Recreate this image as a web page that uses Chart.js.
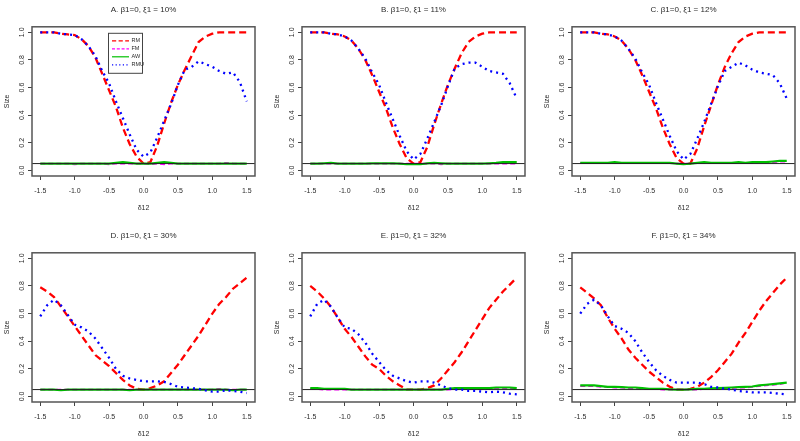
<!DOCTYPE html>
<html>
<head>
<meta charset="utf-8">
<script src="https://cdn.jsdelivr.net/npm/chart.js@4.4.1/dist/chart.umd.min.js"></script>
<style>
  html, body { margin: 0; padding: 0; background: #fff; overflow: hidden; }
  #wrap { position: relative; width: 800px; height: 441px; }
  canvas { position: absolute; }
</style>
</head>
<body>
<div id="wrap"></div>
<script>
// x values (delta12) shared by all panels
const deltaValues = [-1.5, -1.4, -1.3, -1.2, -1.1, -1.0, -0.9, -0.8, -0.7, -0.6, -0.5, -0.4, -0.3, -0.2, -0.1, 0.0,
  0.1, 0.2, 0.3, 0.4, 0.5, 0.6, 0.7, 0.8, 0.9, 1.0, 1.1, 1.2, 1.3, 1.4, 1.5];
const xTickValues = [-1.5, -1.0, -0.5, 0.0, 0.5, 1.0, 1.5];
const yTickValues = [0.0, 0.2, 0.4, 0.6, 0.8, 1.0];
const nominalLevel = 0.05;
const seriesNames = ['RM', 'FM', 'AW', 'RMU'];
const panelTitles = ['A. β1=0, ξ1 = 10%', 'B. β1=0, ξ1 = 11%', 'C. β1=0, ξ1 = 12%',
  'D. β1=0, ξ1 = 30%', 'E. β1=0, ξ1 = 32%', 'F. β1=0, ξ1 = 34%'];

// panel A
const rmA = [1.00, 1.00, 1.00, 0.99, 0.985, 0.98, 0.95, 0.90, 0.82, 0.70, 0.58, 0.46, 0.31, 0.19, 0.10, 0.05,
  0.06, 0.18, 0.34, 0.49, 0.62, 0.73, 0.83, 0.93, 0.97, 0.99, 1.00, 1.00, 1.00, 1.00, 1.00];
const fmA = [0.05, 0.05, 0.05, 0.05, 0.05, 0.045, 0.05, 0.05, 0.05, 0.05, 0.045, 0.05, 0.05, 0.05, 0.05, 0.05,
  0.045, 0.05, 0.045, 0.05, 0.05, 0.05, 0.05, 0.05, 0.05, 0.05, 0.05, 0.055, 0.05, 0.05, 0.05];
const awA = [0.05, 0.05, 0.05, 0.05, 0.05, 0.05, 0.05, 0.05, 0.05, 0.05, 0.05, 0.055, 0.06, 0.055, 0.05, 0.05,
  0.05, 0.055, 0.06, 0.055, 0.05, 0.05, 0.05, 0.05, 0.05, 0.05, 0.05, 0.05, 0.05, 0.05, 0.05];
const rmuA = [1.00, 1.00, 1.00, 0.99, 0.985, 0.98, 0.95, 0.90, 0.83, 0.72, 0.63, 0.50, 0.38, 0.26, 0.15, 0.10,
  0.13, 0.24, 0.36, 0.48, 0.62, 0.73, 0.75, 0.79, 0.77, 0.75, 0.72, 0.70, 0.71, 0.64, 0.50];

// panel B
const rmB = [1.00, 1.00, 1.00, 0.99, 0.985, 0.97, 0.94, 0.88, 0.80, 0.69, 0.57, 0.45, 0.31, 0.19, 0.09, 0.05,
  0.06, 0.17, 0.33, 0.48, 0.62, 0.74, 0.85, 0.93, 0.97, 0.99, 1.00, 1.00, 1.00, 1.00, 1.00];
const fmB = [0.05, 0.05, 0.05, 0.05, 0.05, 0.05, 0.05, 0.05, 0.05, 0.05, 0.05, 0.05, 0.05, 0.05, 0.05, 0.05,
  0.05, 0.05, 0.05, 0.045, 0.05, 0.05, 0.05, 0.05, 0.05, 0.05, 0.05, 0.05, 0.05, 0.05, 0.05];
const awB = [0.05, 0.05, 0.052, 0.055, 0.05, 0.05, 0.05, 0.05, 0.05, 0.052, 0.052, 0.052, 0.052, 0.05, 0.045, 0.045,
  0.045, 0.052, 0.055, 0.052, 0.05, 0.05, 0.05, 0.05, 0.05, 0.05, 0.052, 0.055, 0.06, 0.06, 0.06];
const rmuB = [1.00, 1.00, 1.00, 0.99, 0.985, 0.97, 0.94, 0.88, 0.81, 0.71, 0.62, 0.49, 0.37, 0.25, 0.14, 0.08,
  0.12, 0.23, 0.35, 0.47, 0.61, 0.74, 0.77, 0.78, 0.78, 0.75, 0.72, 0.71, 0.70, 0.63, 0.52];

// panel C
const rmC = [1.00, 1.00, 1.00, 0.99, 0.985, 0.97, 0.94, 0.88, 0.80, 0.69, 0.57, 0.45, 0.31, 0.19, 0.09, 0.05,
  0.05, 0.16, 0.32, 0.47, 0.62, 0.75, 0.85, 0.93, 0.97, 0.99, 1.00, 1.00, 1.00, 1.00, 1.00];
const fmC = [0.055, 0.055, 0.055, 0.055, 0.055, 0.055, 0.055, 0.055, 0.055, 0.055, 0.055, 0.055, 0.055, 0.055, 0.05, 0.05,
  0.05, 0.055, 0.055, 0.055, 0.055, 0.055, 0.055, 0.055, 0.055, 0.055, 0.06, 0.06, 0.06, 0.065, 0.065];
const awC = [0.055, 0.055, 0.055, 0.055, 0.055, 0.06, 0.055, 0.055, 0.055, 0.055, 0.055, 0.055, 0.055, 0.055, 0.05, 0.045,
  0.05, 0.055, 0.06, 0.055, 0.055, 0.055, 0.055, 0.06, 0.055, 0.06, 0.06, 0.06, 0.065, 0.07, 0.07];
const rmuC = [1.00, 1.00, 1.00, 0.99, 0.985, 0.97, 0.94, 0.88, 0.81, 0.71, 0.62, 0.49, 0.37, 0.25, 0.14, 0.08,
  0.12, 0.23, 0.35, 0.48, 0.61, 0.72, 0.75, 0.78, 0.76, 0.73, 0.71, 0.70, 0.69, 0.63, 0.52];

// panel D
const rmD = [0.79, 0.76, 0.72, 0.65, 0.58, 0.51, 0.44, 0.37, 0.30, 0.26, 0.22, 0.17, 0.12, 0.08, 0.055, 0.05,
  0.06, 0.08, 0.11, 0.17, 0.23, 0.30, 0.37, 0.44, 0.52, 0.60, 0.67, 0.72, 0.78, 0.82, 0.86];
const fmD = [0.05, 0.05, 0.05, 0.05, 0.05, 0.05, 0.05, 0.05, 0.05, 0.05, 0.05, 0.05, 0.05, 0.05, 0.05, 0.05,
  0.05, 0.05, 0.05, 0.05, 0.05, 0.05, 0.05, 0.05, 0.05, 0.05, 0.055, 0.05, 0.05, 0.05, 0.05];
const awD = [0.05, 0.05, 0.05, 0.045, 0.05, 0.05, 0.05, 0.05, 0.05, 0.05, 0.05, 0.05, 0.05, 0.045, 0.05, 0.05,
  0.05, 0.05, 0.05, 0.05, 0.05, 0.05, 0.05, 0.05, 0.05, 0.05, 0.05, 0.05, 0.045, 0.05, 0.05];
const rmuD = [0.58, 0.66, 0.70, 0.66, 0.59, 0.52, 0.50, 0.47, 0.42, 0.35, 0.28, 0.20, 0.15, 0.13, 0.12, 0.11,
  0.11, 0.11, 0.105, 0.09, 0.07, 0.065, 0.06, 0.055, 0.045, 0.035, 0.035, 0.045, 0.04, 0.035, 0.025];

// panel E
const rmE = [0.80, 0.76, 0.71, 0.65, 0.57, 0.49, 0.43, 0.36, 0.29, 0.23, 0.20, 0.15, 0.11, 0.08, 0.05, 0.05,
  0.05, 0.06, 0.08, 0.13, 0.19, 0.25, 0.32, 0.40, 0.48, 0.56, 0.64, 0.70, 0.76, 0.81, 0.86];
const fmE = [0.055, 0.055, 0.05, 0.05, 0.05, 0.05, 0.05, 0.05, 0.05, 0.05, 0.05, 0.05, 0.05, 0.05, 0.05, 0.05,
  0.05, 0.05, 0.05, 0.05, 0.05, 0.055, 0.055, 0.055, 0.055, 0.055, 0.055, 0.06, 0.06, 0.06, 0.055];
const awE = [0.06, 0.06, 0.055, 0.055, 0.055, 0.055, 0.05, 0.05, 0.05, 0.05, 0.05, 0.05, 0.05, 0.05, 0.05, 0.05,
  0.05, 0.05, 0.05, 0.05, 0.055, 0.06, 0.06, 0.06, 0.06, 0.06, 0.06, 0.065, 0.065, 0.065, 0.06];
const rmuE = [0.58, 0.67, 0.70, 0.65, 0.57, 0.50, 0.49, 0.45, 0.39, 0.31, 0.25, 0.19, 0.15, 0.13, 0.11, 0.10,
  0.11, 0.11, 0.10, 0.08, 0.06, 0.05, 0.05, 0.04, 0.04, 0.035, 0.03, 0.035, 0.03, 0.02, 0.015];

// panel F
const rmF = [0.79, 0.75, 0.71, 0.66, 0.57, 0.49, 0.42, 0.34, 0.28, 0.23, 0.18, 0.14, 0.10, 0.07, 0.05, 0.05,
  0.055, 0.07, 0.10, 0.14, 0.19, 0.25, 0.31, 0.39, 0.46, 0.54, 0.62, 0.69, 0.75, 0.81, 0.86];
const fmF = [0.075, 0.075, 0.075, 0.07, 0.07, 0.065, 0.065, 0.06, 0.06, 0.055, 0.055, 0.055, 0.05, 0.05, 0.05, 0.05,
  0.05, 0.05, 0.055, 0.055, 0.055, 0.06, 0.06, 0.065, 0.065, 0.07, 0.075, 0.08, 0.085, 0.09, 0.10];
const awF = [0.08, 0.08, 0.08, 0.075, 0.07, 0.07, 0.068, 0.065, 0.065, 0.06, 0.055, 0.055, 0.055, 0.052, 0.05, 0.05,
  0.052, 0.055, 0.055, 0.058, 0.06, 0.062, 0.065, 0.068, 0.07, 0.072, 0.08, 0.085, 0.09, 0.095, 0.10];
const rmuF = [0.60, 0.67, 0.70, 0.66, 0.58, 0.51, 0.49, 0.46, 0.40, 0.32, 0.25, 0.19, 0.15, 0.12, 0.10, 0.10,
  0.10, 0.10, 0.09, 0.07, 0.065, 0.055, 0.05, 0.04, 0.035, 0.03, 0.03, 0.03, 0.025, 0.02, 0.015];

const panelSeries = [
  [rmA, fmA, awA, rmuA], [rmB, fmB, awB, rmuB], [rmC, fmC, awC, rmuC],
  [rmD, fmD, awD, rmuD], [rmE, fmE, awE, rmuE], [rmF, fmF, awF, rmuF]
];

const xMin = -1.62, xMax = 1.62, yMin = -0.04, yMax = 1.04;
const fontFamily = '"Liberation Sans", Arial, Helvetica, sans-serif';
const textColor = '#2a2a2a';
const axisColor = '#444';

const lineStyles = [
  { color: '#ff0000', width: 2.3, dash: [7, 4] },
  { color: '#ff00ff', width: 1.8, dash: [5, 3] },
  { color: '#00c000', width: 2.2, dash: [] },
  { color: '#0000ff', width: 2.3, dash: [2, 4] }
];
const drawOrder = [3, 2, 1, 0]; // RM bottom, RMU on top

const boxPlugin = {
  id: 'rBox',
  afterDraw(chart) {
    const { ctx, chartArea: a } = chart;
    ctx.save();
    ctx.strokeStyle = '#555';
    ctx.lineWidth = 1.5;
    ctx.strokeRect(a.left, a.top, a.right - a.left, a.bottom - a.top);
    ctx.restore();
  }
};

const legendPlugin = {
  id: 'rLegend',
  afterDraw(chart, args, opts) {
    if (!opts.show) return;
    const { ctx, chartArea: a } = chart;
    const x0 = a.left + 76, y0 = a.top + 6, w = 34, h = 40;
    ctx.save();
    ctx.fillStyle = '#fff';
    ctx.fillRect(x0, y0, w, h);
    ctx.strokeStyle = '#444';
    ctx.lineWidth = 1;
    ctx.strokeRect(x0 + 0.5, y0 + 0.5, w, h);
    ctx.font = '5.5px ' + fontFamily;
    ctx.textBaseline = 'middle';
    seriesNames.forEach((name, i) => {
      const st = lineStyles[i];
      const y = y0 + 8 + i * 8;
      ctx.strokeStyle = st.color;
      ctx.lineWidth = 1.2;
      ctx.setLineDash(st.dash.map(d => d * 0.6));
      ctx.beginPath();
      ctx.moveTo(x0 + 4, y);
      ctx.lineTo(x0 + 21, y);
      ctx.stroke();
      ctx.setLineDash([]);
      ctx.fillStyle = textColor;
      ctx.fillText(name, x0 + 23.5, y);
    });
    ctx.restore();
  }
};

const wrap = document.getElementById('wrap');
const colLefts = [0, 270, 540];
const rowTops = [0, 226];

panelTitles.forEach((title, p) => {
  const canvas = document.createElement('canvas');
  canvas.width = 260;
  canvas.height = 220;
  canvas.style.left = colLefts[p % 3] + 'px';
  canvas.style.top = rowTops[Math.floor(p / 3)] + 'px';
  wrap.appendChild(canvas);

  const datasets = panelSeries[p].map((vals, i) => ({
    label: seriesNames[i],
    data: deltaValues.map((x, k) => ({ x: x, y: vals[k] })),
    borderColor: lineStyles[i].color,
    borderWidth: lineStyles[i].width,
    borderDash: lineStyles[i].dash,
    pointRadius: 0,
    tension: 0,
    fill: false,
    order: drawOrder[i]
  }));
  datasets.push({
    label: 'nominal',
    data: [{ x: xMin, y: nominalLevel }, { x: xMax, y: nominalLevel }],
    borderColor: '#222',
    borderWidth: 1,
    pointRadius: 0,
    order: 0
  });

  new Chart(canvas, {
    type: 'line',
    data: { datasets: datasets },
    options: {
      responsive: false,
      animation: false,
      devicePixelRatio: 1,
      layout: { padding: { left: 0, right: 5, top: 0, bottom: 0 } },
      plugins: {
        legend: { display: false },
        tooltip: { enabled: false },
        title: {
          display: true,
          text: title,
          fullSize: false,
          color: textColor,
          font: { family: fontFamily, size: 8, weight: 'normal' },
          padding: { top: 5, bottom: 12.2 }
        },
        rLegend: { show: p === 0 }
      },
      scales: {
        x: {
          type: 'linear',
          min: xMin,
          max: xMax,
          afterBuildTicks(scale) { scale.ticks = xTickValues.map(v => ({ value: v })); },
          afterFit(scale) { scale.height = 44; },
          ticks: {
            color: textColor,
            font: { family: fontFamily, size: 7 },
            padding: 7,
            maxRotation: 0,
            autoSkip: false,
            callback: v => v.toFixed(1)
          },
          grid: { drawOnChartArea: false, drawTicks: true, tickLength: 4, color: axisColor, lineWidth: 1 },
          border: { display: false },
          title: {
            display: true,
            text: 'δ12',
            color: textColor,
            font: { family: fontFamily, size: 7 },
            padding: { top: 0, bottom: 7.8 }
          }
        },
        y: {
          type: 'linear',
          min: yMin,
          max: yMax,
          afterBuildTicks(scale) { scale.ticks = yTickValues.map(v => ({ value: v })); },
          afterFit(scale) { scale.width = 32; },
          ticks: {
            color: textColor,
            font: { family: fontFamily, size: 7 },
            minRotation: 90,
            maxRotation: 90,
            crossAlign: 'center',
            padding: 1,
            autoSkip: false,
            callback: v => v.toFixed(1)
          },
          grid: { drawOnChartArea: false, drawTicks: true, tickLength: 4, color: axisColor, lineWidth: 1 },
          border: { display: false },
          title: {
            display: true,
            text: 'Size',
            color: textColor,
            font: { family: fontFamily, size: 7 },
            padding: { top: 3, bottom: 0 }
          }
        }
      }
    },
    plugins: [boxPlugin, legendPlugin]
  });
});
</script>
</body>
</html>
